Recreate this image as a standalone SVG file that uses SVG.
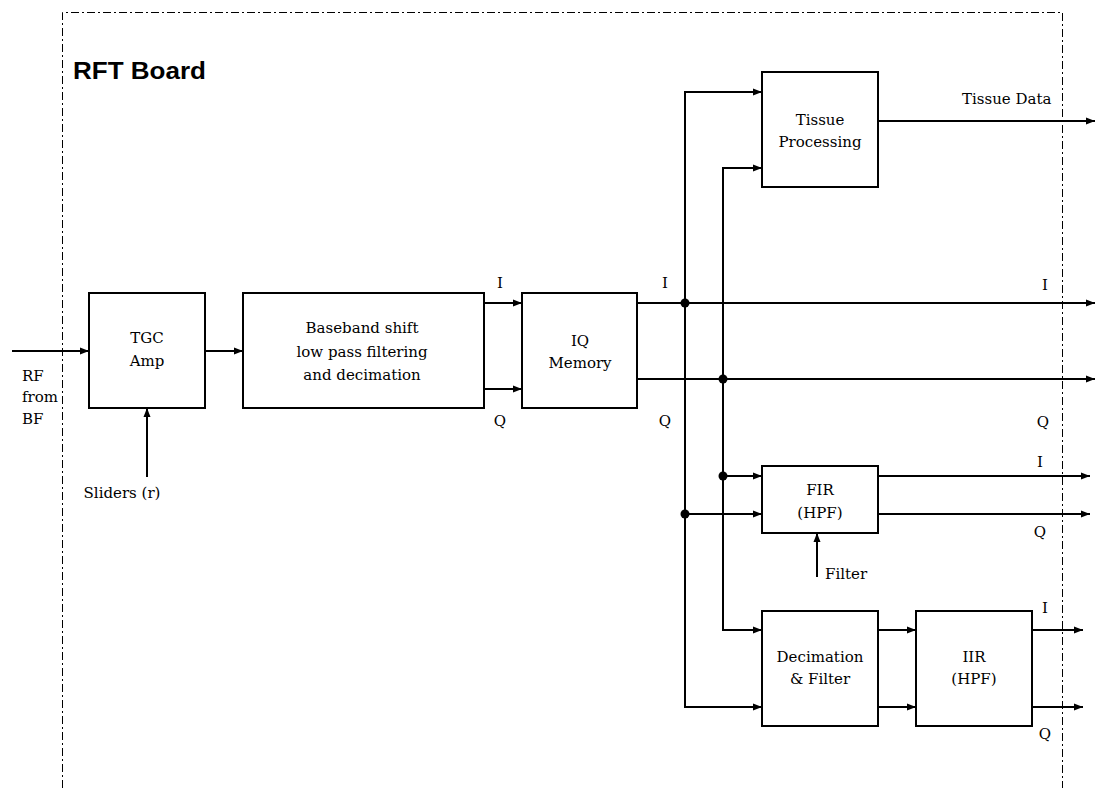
<svg xmlns="http://www.w3.org/2000/svg" width="1097" height="788" viewBox="0 0 1097 788">
<style>
.box{fill:#fff;stroke:#000;stroke-width:2}
.ln{fill:none;stroke:#000;stroke-width:2}
.t{font-family:"DejaVu Serif","Liberation Serif",serif;font-size:15px;fill:#000}
.c{text-anchor:middle}
.dot{fill:#000}
</style>
<defs>
<marker id="ah" markerUnits="userSpaceOnUse" markerWidth="10" markerHeight="8" refX="9" refY="4" orient="auto">
<path d="M0,0.5 L9,4 L0,7.5 z" fill="#000"/>
</marker>
</defs>
<rect width="1097" height="788" fill="#fff"/>
<g id="board">
<path d="M62.5,788 V12.5 H1062.5 V788" fill="none" stroke="#000" stroke-width="1" stroke-dasharray="8,3,2,3"/>
<text x="73" y="79" font-family="Liberation Sans,Arial,sans-serif" font-weight="bold" font-size="24" textLength="133" lengthAdjust="spacingAndGlyphs">RFT Board</text>
</g>
<g id="connectors">
<path class="ln" d="M12,351 H89" marker-end="url(#ah)"/>
<path class="ln" d="M205,351 H243" marker-end="url(#ah)"/>
<path class="ln" d="M147,477 V408" marker-end="url(#ah)"/>
<path class="ln" d="M484,303 H522" marker-end="url(#ah)"/>
<path class="ln" d="M484,389 H522" marker-end="url(#ah)"/>
<path class="ln" d="M637,303 H1095" marker-end="url(#ah)"/>
<path class="ln" d="M637,379 H1095" marker-end="url(#ah)"/>
<path class="ln" d="M685,303 V92 H762" marker-end="url(#ah)"/>
<path class="ln" d="M685,303 V707 H762" marker-end="url(#ah)"/>
<path class="ln" d="M685,514 H762" marker-end="url(#ah)"/>
<path class="ln" d="M723,379 V168 H762" marker-end="url(#ah)"/>
<path class="ln" d="M723,379 V630 H762" marker-end="url(#ah)"/>
<path class="ln" d="M723,476 H762" marker-end="url(#ah)"/>
<path class="ln" d="M878,121 H1095" marker-end="url(#ah)"/>
<path class="ln" d="M878,476 H1090" marker-end="url(#ah)"/>
<path class="ln" d="M878,514 H1090" marker-end="url(#ah)"/>
<path class="ln" d="M817,577 V533" marker-end="url(#ah)"/>
<path class="ln" d="M878,630 H916" marker-end="url(#ah)"/>
<path class="ln" d="M878,707 H916" marker-end="url(#ah)"/>
<path class="ln" d="M1032,630 H1083" marker-end="url(#ah)"/>
<path class="ln" d="M1032,707 H1083" marker-end="url(#ah)"/>
<circle class="dot" cx="685" cy="303" r="4.5"/>
<circle class="dot" cx="723" cy="379" r="4.5"/>
<circle class="dot" cx="723" cy="476" r="4.5"/>
<circle class="dot" cx="685" cy="514" r="4.5"/>
</g>
<g id="labels">
<text class="t" x="22" y="381">RF</text>
<text class="t" x="22" y="402">from</text>
<text class="t" x="22" y="424">BF</text>
<text class="t c" x="122" y="498">Sliders (r)</text>
<text class="t c" x="500" y="288">I</text>
<text class="t c" x="500" y="426">Q</text>
<text class="t c" x="665" y="288">I</text>
<text class="t c" x="665" y="426">Q</text>
<text class="t c" x="1045" y="290">I</text>
<text class="t c" x="1043" y="427">Q</text>
<text class="t" x="962" y="104">Tissue Data</text>
<text class="t c" x="1040" y="467">I</text>
<text class="t c" x="1040" y="537">Q</text>
<text class="t" x="825" y="579">Filter</text>
<text class="t c" x="1045" y="613">I</text>
<text class="t c" x="1045" y="739">Q</text>
</g>
<g id="tgc">
<rect class="box" x="89" y="293" width="116" height="115"/>
<text class="t c" x="147" y="343">TGC</text>
<text class="t c" x="147" y="366">Amp</text>
</g>
<g id="baseband">
<rect class="box" x="243" y="293" width="241" height="115"/>
<text class="t c" x="362" y="333">Baseband shift</text>
<text class="t c" x="362" y="357">low pass filtering</text>
<text class="t c" x="362" y="380">and decimation</text>
</g>
<g id="iqmemory">
<rect class="box" x="522" y="293" width="115" height="115"/>
<text class="t c" x="580" y="346">IQ</text>
<text class="t c" x="580" y="368">Memory</text>
</g>
<g id="tissue">
<rect class="box" x="762" y="72" width="116" height="115"/>
<text class="t c" x="820" y="125">Tissue</text>
<text class="t c" x="820" y="147">Processing</text>
</g>
<g id="fir">
<rect class="box" x="762" y="466" width="116" height="67"/>
<text class="t c" x="820" y="495">FIR</text>
<text class="t c" x="820" y="518">(HPF)</text>
</g>
<g id="decimation">
<rect class="box" x="762" y="611" width="116" height="115"/>
<text class="t c" x="820" y="662">Decimation</text>
<text class="t c" x="820" y="684">&amp; Filter</text>
</g>
<g id="iir">
<rect class="box" x="916" y="611" width="116" height="115"/>
<text class="t c" x="974" y="662">IIR</text>
<text class="t c" x="974" y="684">(HPF)</text>
</g>
</svg>
